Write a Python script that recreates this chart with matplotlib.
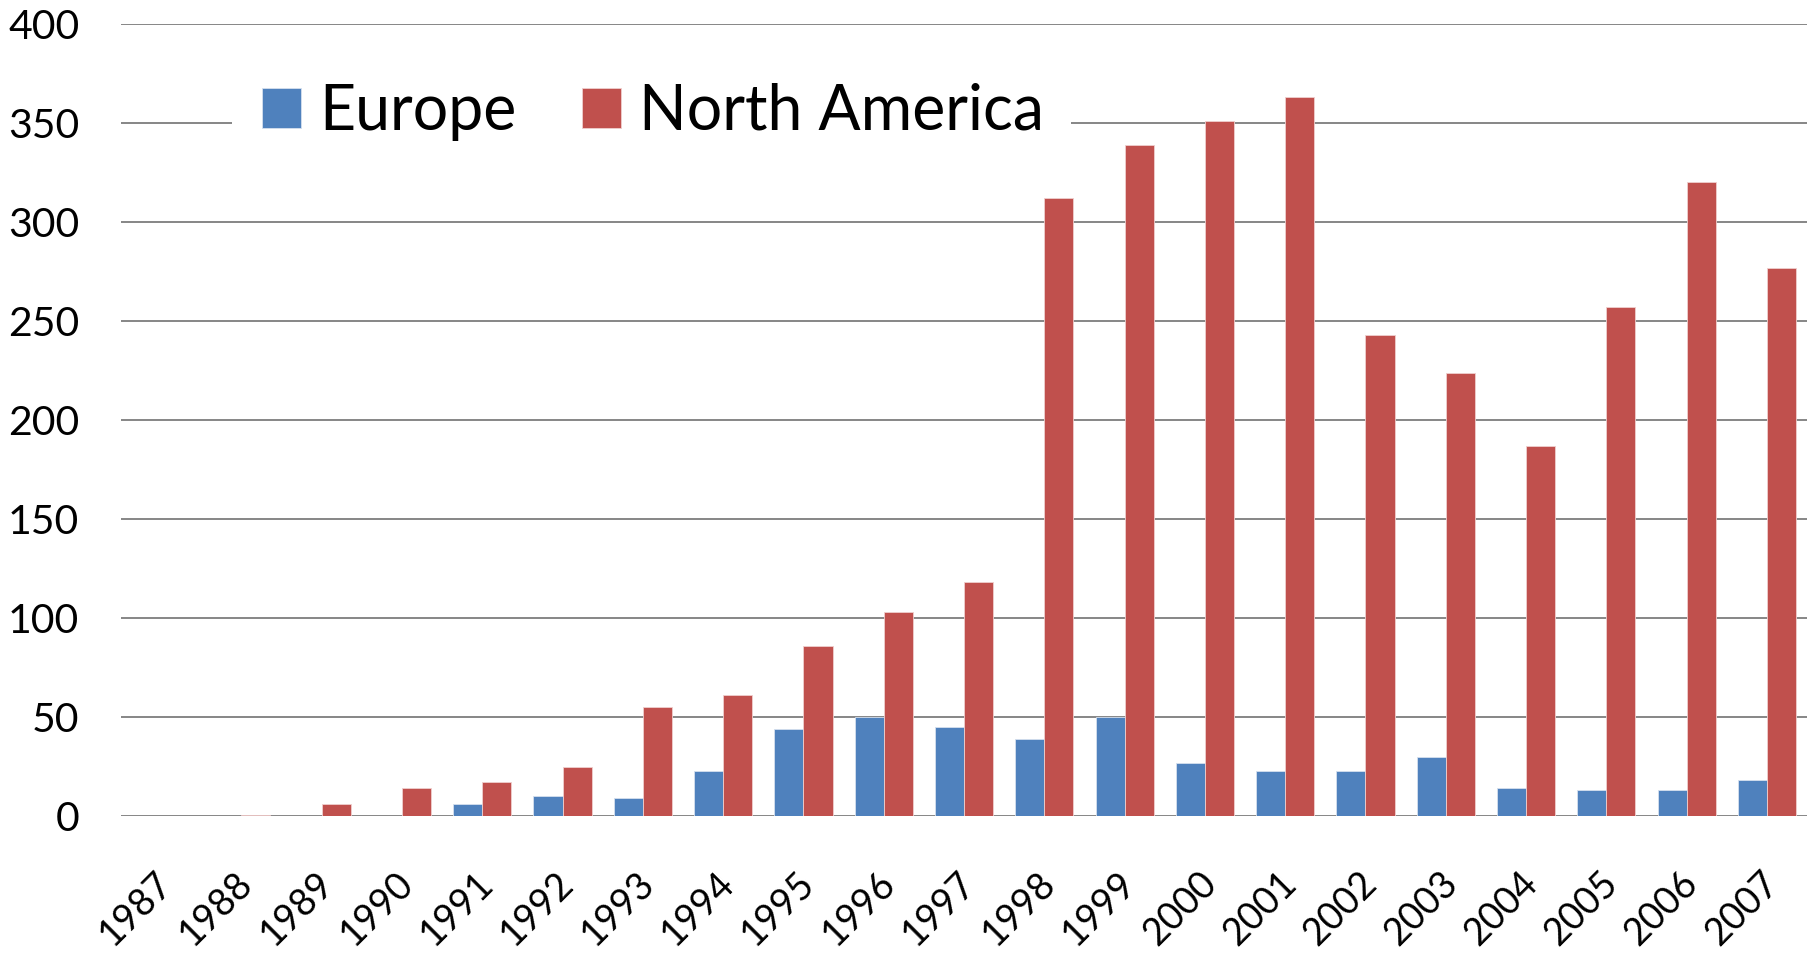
import numpy as np
import matplotlib
matplotlib.use("Agg")
import matplotlib.pyplot as plt
import matplotlib.transforms as mtransforms
from matplotlib.patches import Rectangle

plt.rcParams['font.family'] = ['Lato', 'DejaVu Sans']

# Données par année
annees = ['1987', '1988', '1989', '1990', '1991', '1992', '1993', '1994', '1995', '1996', '1997',
          '1998', '1999', '2000', '2001', '2002', '2003', '2004', '2005', '2006', '2007']
europe = [0, 0, 0, 0, 6, 10, 9, 23, 44, 50, 45, 39, 50, 27, 23, 23, 30, 14, 13, 13, 18]
amerique_nord = [0, 0.7, 6, 14, 17, 25, 55, 61, 86, 103, 118, 312, 339, 351, 363,
                 243, 224, 187, 257, 320, 277]

W, H = 1816, 959
fig = plt.figure(figsize=(W / 100, H / 100), dpi=100)
ax = fig.add_axes([0.0666, 0.149, 0.9285, 0.826])

x = np.arange(len(annees))
largeur = 0.362
ax.bar(x - largeur / 2, europe, largeur, color='#4F81BD', edgecolor='#D5E0EE', linewidth=0.6,
       label='Europe', zorder=3)
ax.bar(x + largeur / 2, amerique_nord, largeur, color='#C0504D', edgecolor='#EFCFCE', linewidth=0.6,
       label='North America', zorder=3)

ax.set_xlim(-0.5, len(annees) - 0.5)
ax.set_ylim(0, 400)
ax.set_yticks(range(0, 401, 50))
ax.grid(axis='y', color='#868686', linewidth=1.4, zorder=0)
ax.set_axisbelow(True)
for s in ax.spines.values():
    s.set_visible(False)

ax.tick_params(axis='y', length=0, pad=30, labelsize=29.5)
ax.tick_params(axis='x', length=0, pad=35, labelsize=27)
ax.set_xticks(x)
ax.set_xticklabels(annees, rotation=45, ha='right', va='top', rotation_mode='anchor')
decalage = mtransforms.ScaledTranslation(-7 / 100, 0, fig.dpi_scale_trans)
for lbl in ax.get_xticklabels():
    lbl.set_transform(lbl.get_transform() + decalage)

# fond blanc de la légende (masque le quadrillage, pas les barres)
fond = Rectangle((232 / W, 1 - 172 / H), (1071 - 232) / W, (172 - 24.5) / H,
                 transform=fig.transFigure, facecolor='white', edgecolor='none', zorder=2)
ax.add_patch(fond)

leg = ax.legend(loc='center left', bbox_to_anchor=(262 / W, 1 - 112 / H),
                bbox_transform=fig.transFigure, ncol=2, fontsize=45,
                frameon=False, handlelength=0.63, handleheight=0.63, handletextpad=0.28,
                columnspacing=1.05, borderpad=0, borderaxespad=0)
leg.set_zorder(5)

fig.savefig('out.png', dpi=100, facecolor='white')
